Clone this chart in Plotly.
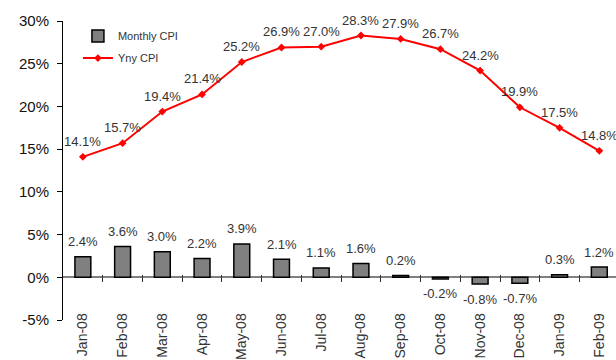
import plotly.graph_objects as go

# Monthly and year-on-year CPI, Jan 2008 - Feb 2009
months = ["Jan-08", "Feb-08", "Mar-08", "Apr-08", "May-08", "Jun-08", "Jul-08",
          "Aug-08", "Sep-08", "Oct-08", "Nov-08", "Dec-08", "Jan-09", "Feb-09"]
monthly_cpi = [2.4, 3.6, 3.0, 2.2, 3.9, 2.1, 1.1, 1.6, 0.2, -0.2, -0.8, -0.7, 0.3, 1.2]
yoy_cpi = [14.1, 15.7, 19.4, 21.4, 25.2, 26.9, 27.0, 28.3, 27.9, 26.7, 24.2, 19.9, 17.5, 14.8]
y_ticks = [-5, 0, 5, 10, 15, 20, 25, 30]
y_tick_labels = ["-5%", "0%", "5%", "10%", "15%", "20%", "25%", "30%"]

FONT = "Liberation Sans, Arial, sans-serif"
Y_MIN, Y_MAX = -5, 30
X_RANGE = [-0.5, 13.42]

fig = go.Figure()

fig.add_trace(go.Bar(
    x=months, y=monthly_cpi, name="Monthly CPI", width=0.4,
    marker=dict(color="#808080", line=dict(color="#000000", width=1.5)),
    legendgroup="a",
))
fig.add_trace(go.Scatter(
    x=months, y=yoy_cpi, name="Yny CPI", mode="lines+markers",
    line=dict(color="#ff0000", width=2),
    marker=dict(symbol="diamond", size=6, color="#ff0000"),
    legendgroup="b",
))

# value labels
annotations = []
for m, v in zip(months, monthly_cpi):
    annotations.append(dict(
        x=m, y=v, xref="x", yref="y", text=f"{v:.1f}%", showarrow=False,
        yshift=15 if v >= 0 else -15,
        font=dict(family=FONT, size=13, color="#333333"),
    ))
for m, v in zip(months, yoy_cpi):
    annotations.append(dict(
        x=m, y=v, xref="x", yref="y", text=f"{v:.1f}%", showarrow=False,
        yshift=15.5, font=dict(family=FONT, size=13, color="#333333"),
    ))

plot_h = 360 - 21 - 38
zero_frac = (0 - Y_MIN) / (Y_MAX - Y_MIN)

fig.update_layout(
    width=616, height=360,
    margin=dict(l=63, r=0, t=21, b=38),
    paper_bgcolor="white", plot_bgcolor="white",
    font=dict(family=FONT, color="#333333"),
    bargap=0.6,
    annotations=annotations,
    legend=dict(
        x=0.027, y=0.998, xanchor="left", yanchor="top",
        bgcolor="rgba(0,0,0,0)", font=dict(family=FONT, size=11, color="#333333"),
        traceorder="grouped", tracegroupgap=3, itemwidth=30,
    ),
    xaxis=dict(
        type="category", range=X_RANGE, anchor="free", position=0.035,
        showline=False, showgrid=False, zeroline=False, ticks="",
        tickangle=-90, tickfont=dict(family=FONT, size=14, color="#333333"),
    ),
    # tick marks between months, crossing the zero line
    xaxis2=dict(
        overlaying="x", range=X_RANGE, anchor="free",
        position=zero_frac + 3.5 / plot_h,
        tickvals=[i + 0.5 for i in range(len(months) - 1)],
        showticklabels=False, ticks="outside", ticklen=7, tickwidth=1,
        tickcolor="#333333", showline=False, showgrid=False, zeroline=False,
    ),
    yaxis=dict(
        range=[Y_MIN, Y_MAX], tickmode="array", tickvals=y_ticks, ticktext=y_tick_labels,
        showline=True, linecolor="#000000", linewidth=1,
        ticks="outside", ticklen=5, tickcolor="#000000", ticklabelstandoff=5,
        showgrid=False, zeroline=True, zerolinecolor="#808080", zerolinewidth=2,
        tickfont=dict(family=FONT, size=15, color="#111111"),
    ),
)

# invisible trace so the tick-mark axis is rendered
fig.add_trace(go.Scatter(x=[0], y=[0], xaxis="x2", mode="markers",
                         marker=dict(opacity=0), showlegend=False, hoverinfo="skip"))

fig.write_html("out.html")
